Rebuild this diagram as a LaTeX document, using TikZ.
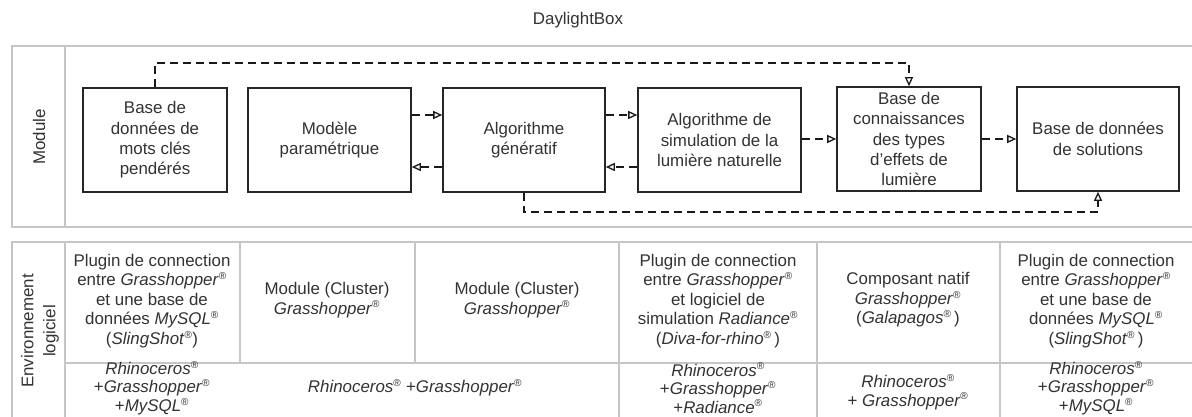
\documentclass[tikz,border=0pt]{standalone}
\usepackage{fontspec}
\setmainfont{Liberation Sans}
\usetikzlibrary{arrows.meta}
\definecolor{txt}{HTML}{333333}
\definecolor{pan}{HTML}{C6C6C6}
\newcommand\regmark{\textsuperscript{\scalebox{0.85}{®}}}
\begin{document}
\begin{tikzpicture}[x=1pt,y=-1pt,
  panel/.style={draw=pan, line width=2.8pt},
  box/.style={draw=black!85, line width=1.6pt, inner sep=0pt, minimum height=104pt,
     align=center, text=txt, font=\fontsize{16.9}{20.3}\selectfont},
  cell/.style={inner sep=0pt, align=center, text=txt, font=\fontsize{16.9}{19.5}\selectfont},
  cellb/.style={inner sep=0pt, align=center, text=txt, font=\fontsize{16.9}{18.5}\selectfont},
  lbl/.style={inner sep=0pt, align=center, text=txt, rotate=90, font=\fontsize{16.9}{22}\selectfont},
  dline/.style={draw=black!90, line width=1.6pt, dash pattern=on 8pt off 5pt},
  tip/.style={-{Triangle[open,length=9pt,width=8pt,line width=1.3pt]}}
]
\useasboundingbox (0,0) rectangle (1192,417);
\clip (0,0) rectangle (1192,417);
\fill[white] (0,0) rectangle (1192,417);

% title
\node[cell] (title) at (578,20) {DaylightBox};

% upper panel
\draw[panel] (12,46) rectangle (1215,227);
\draw[panel] (65,46) -- (65,227);
\node[lbl] (lmod) at (39,137) {Module};

\node[box, minimum width=144pt] (b1) at (155,140) {Base de\\données de\\mots clés\\pendérés};
\node[box, minimum width=163pt] (b2) at (329.5,140) {Modèle\\paramétrique};
\node[box, minimum width=162pt] (b3) at (524,140) {Algorithme\\génératif};
\node[box, minimum width=163pt] (b4) at (719.5,140) {Algorithme de\\simulation de la\\lumière naturelle};
\node[box, minimum width=144pt] (b5) at (909,139) {Base de\\connaissances\\des types\\d'effets de\\lumière};
\node[box, minimum width=162pt] (b6) at (1098,139) {Base de données\\de solutions};

\coordinate (yA) at (0,115);
\coordinate (yB) at (0,167);
\coordinate (yC) at (0,139);
\coordinate (ytop) at (0,63);
\coordinate (ybot) at (0,212);

\draw[dline,tip] (b2.east |- yA) -- (b3.west |- yA);
\draw[dline,tip] (b3.west |- yB) -- (b2.east |- yB);
\draw[dline,tip] (b3.east |- yA) -- (b4.west |- yA);
\draw[dline,tip] (b4.west |- yB) -- (b3.east |- yB);
\draw[dline,tip] (b4.east |- yC) -- (b5.west |- yC);
\draw[dline,tip] (b5.east |- yC) -- (b6.west |- yC);
\draw[dline,tip] (b1.north) -- (b1.north |- ytop) -- (b5.north |- ytop) -- (b5.north);
\draw[dline,tip] (b3.south) -- (b3.south |- ybot) -- (b6.south |- ybot) -- (b6.south);

% lower panel
\draw[panel] (12,242) rectangle (1215,445);
\draw[panel] (65,242) -- (65,445);
\draw[panel] (65,363) -- (1215,363);
\draw[panel] (240,242) -- (240,363);
\draw[panel] (415,242) -- (415,363);
\draw[panel] (619,242) -- (619,445);
\draw[panel] (817,242) -- (817,445);
\draw[panel] (1000,242) -- (1000,445);

\node[lbl] (lenv) at (40,331) {Environnement\\logiciel};

\node[cell] (c1) at (152,301) {Plugin de connection\\entre \textit{Grasshopper}\regmark\\et une base de\\données \textit{MySQL}\regmark\\(\textit{SlingShot}\regmark)};
\node[cell] (c2) at (327,300) {Module (Cluster)\\\textit{Grasshopper}\regmark};
\node[cell] (c3) at (517,300) {Module (Cluster)\\\textit{Grasshopper}\regmark};
\node[cell] (c4) at (718,301) {Plugin de connection\\entre \textit{Grasshopper}\regmark\\et logiciel de\\simulation \textit{Radiance}\regmark\\(\textit{Diva-for-rhino}\regmark\,)};
\node[cell] (c5) at (908,300) {Composant natif\\\textit{Grasshopper}\regmark\\(\textit{Galapagos}\regmark\,)};
\node[cell] (c6) at (1096,301) {Plugin de connection\\entre \textit{Grasshopper}\regmark\\et une base de\\données \textit{MySQL}\regmark\\(\textit{SlingShot}\regmark\,)};

\node[cellb] (d1) at (152,388) {\textit{Rhinoceros}\regmark\\+\textit{Grasshopper}\regmark\\+\textit{MySQL}\regmark};
\node[cellb] (d2) at (415,388) {\textit{Rhinoceros}\regmark\ +\textit{Grasshopper}\regmark};
\node[cellb] (d4) at (718,388) {\textit{Rhinoceros}\regmark\\+\textit{Grasshopper}\regmark\\+\textit{Radiance}\regmark};
\node[cellb] (d5) at (908,392) {\textit{Rhinoceros}\regmark\\+ \textit{Grasshopper}\regmark};
\node[cellb] (d6) at (1096,388) {\textit{Rhinoceros}\regmark\\+\textit{Grasshopper}\regmark\\+\textit{MySQL}\regmark};
\end{tikzpicture}
\end{document}
